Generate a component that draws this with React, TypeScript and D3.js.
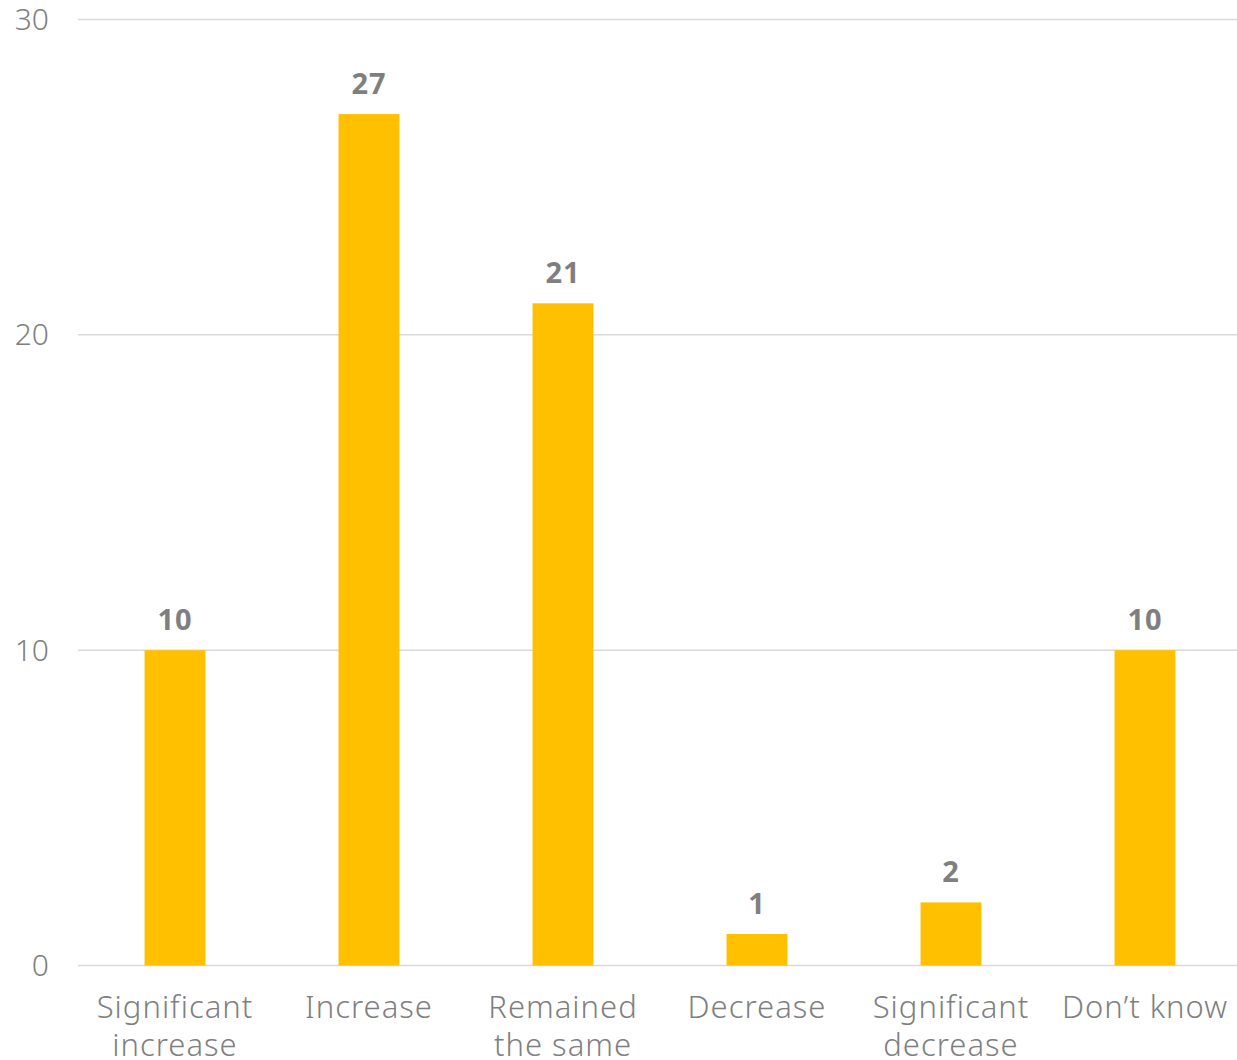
import React from "react";
import * as d3 from "d3";

const categories = ["Significant increase", "Increase", "Remained the same", "Decrease", "Significant decrease", "Don’t know"];
const categoryLines = [["Significant", "increase"], ["Increase"], ["Remained", "the same"], ["Decrease"], ["Significant", "decrease"], ["Don’t know"]];
const values = [10, 27, 21, 1, 2, 10];
const yTicks = [0, 10, 20, 30];

const W = 1237;
const H = 1060;
const FONT = "'Noto Sans', 'DejaVu Sans', sans-serif";

export default function App() {
  const x = d3.scaleBand<string>().domain(categories).range([78, 1242]).paddingInner(0.686).paddingOuter(0.343);
  const y = d3.scaleLinear().domain([0, 30]).range([965.5, 19.5]);
  return (
    <svg width={W} height={H} style={{ position: "absolute", left: 0, top: 0, background: "#fff" }}>
      {yTicks.map((t) => (
        <g key={t}>
          <line x1={78} x2={1237} y1={y(t)} y2={y(t)} stroke="#d9d9d9" strokeWidth={1.5} />
          <text x={49} y={y(t)} dy="0.35em" textAnchor="end" fontFamily={FONT} fontSize={30} fill="#7f7f7f" fontWeight={300}>
            {t}
          </text>
        </g>
      ))}
      {categories.map((c, i) => (
        <g key={c}>
          <rect x={x(c)} y={y(values[i])} width={x.bandwidth()} height={y(0) - y(values[i])} fill="#FFC000" />
          <text x={(x(c) as number) + x.bandwidth() / 2} y={y(values[i]) - 20} textAnchor="middle" fontFamily={FONT} fontSize={29} fontWeight="bold" fill="#7f7f7f" letterSpacing={1}>
            {values[i]}
          </text>
          {categoryLines[i].map((ln, j) => (
            <text key={j} x={(x(c) as number) + x.bandwidth() / 2} y={1018 + j * 38} textAnchor="middle" fontFamily={FONT} fontSize={31} fill="#7f7f7f" fontWeight={300} letterSpacing={1}>
              {ln}
            </text>
          ))}
        </g>
      ))}
    </svg>
  );
}
